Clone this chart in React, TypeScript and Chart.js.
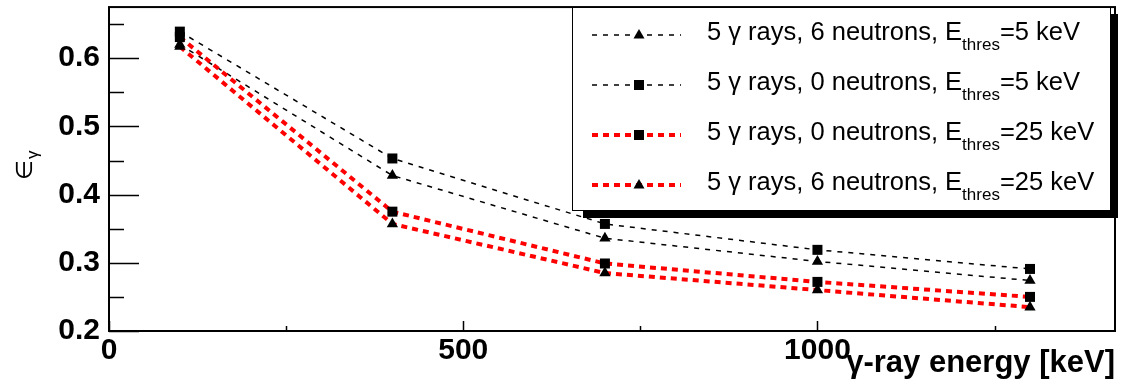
import React, { useEffect, useRef } from "react";
import { Chart, registerables } from "chart.js";

Chart.register(...registerables);

const X_VALUES = [100, 400, 700, 1000, 1300];
const TRI_6N_5KEV = [0.62, 0.428, 0.336, 0.302, 0.274];
const SQ_0N_5KEV = [0.639, 0.453, 0.357, 0.319, 0.291];
const SQ_0N_25KEV = [0.631, 0.375, 0.299, 0.272, 0.25];
const TRI_6N_25KEV = [0.617, 0.357, 0.285, 0.26, 0.235];

const X_MAJOR = [0, 500, 1000];
const X_MINOR = [250, 750, 1250];
const Y_MAJOR = [0.2, 0.3, 0.4, 0.5, 0.6];
const Y_MINOR = [0.25, 0.35, 0.45, 0.55, 0.65];

const LEGEND = [
  { pre: "5 \u03b3 rays, 6 neutrons, E", sub: "thres", post: "=5 keV", color: "#000000", width: 1.5, dash: [5, 6], style: "triangle" },
  { pre: "5 \u03b3 rays, 0 neutrons, E", sub: "thres", post: "=5 keV", color: "#000000", width: 1.5, dash: [5, 6], style: "rect" },
  { pre: "5 \u03b3 rays, 0 neutrons, E", sub: "thres", post: "=25 keV", color: "#ff0000", width: 4, dash: [6, 5], style: "rect" },
  { pre: "5 \u03b3 rays, 6 neutrons, E", sub: "thres", post: "=25 keV", color: "#ff0000", width: 4, dash: [6, 5], style: "triangle" },
];

const FONT = "'Liberation Sans', Arial, 'DejaVu Sans', sans-serif";

function drawMarker(ctx: CanvasRenderingContext2D, style: string, x: number, y: number) {
  ctx.save();
  ctx.setLineDash([]);
  ctx.fillStyle = "#000";
  ctx.beginPath();
  if (style === "rect") {
    ctx.rect(x - 5, y - 5, 10, 10);
  } else {
    ctx.moveTo(x, y - 6);
    ctx.lineTo(x + 5.5, y + 3.5);
    ctx.lineTo(x - 5.5, y + 3.5);
    ctx.closePath();
  }
  ctx.fill();
  ctx.restore();
}

const framePlugin = {
  id: "rootFrame",
  afterDatasetsDraw(chart: any) {
    const ctx: CanvasRenderingContext2D = chart.ctx;
    const { left, right, top, bottom } = chart.chartArea;
    const xs = chart.scales.x;
    const ys = chart.scales.y;
    ctx.save();
    ctx.strokeStyle = "#000";
    ctx.setLineDash([]);
    // ticks
    ctx.lineWidth = 1.5;
    ctx.beginPath();
    Y_MAJOR.forEach((v) => {
      const p = Math.round(ys.getPixelForValue(v)) + 0.5;
      ctx.moveTo(left, p);
      ctx.lineTo(left + 30, p);
    });
    Y_MINOR.forEach((v) => {
      const p = Math.round(ys.getPixelForValue(v)) + 0.5;
      ctx.moveTo(left, p);
      ctx.lineTo(left + 15, p);
    });
    X_MAJOR.forEach((v) => {
      const p = Math.round(xs.getPixelForValue(v)) + 0.5;
      ctx.moveTo(p, bottom);
      ctx.lineTo(p, bottom - 10);
    });
    X_MINOR.forEach((v) => {
      const p = Math.round(xs.getPixelForValue(v)) + 0.5;
      ctx.moveTo(p, bottom);
      ctx.lineTo(p, bottom - 5);
    });
    ctx.stroke();
    // frame
    ctx.lineWidth = 2;
    ctx.strokeRect(left, top, right - left, bottom - top);

    // legend
    const lx = 572, ly = 7, lw = 539, lh = 204;
    ctx.fillStyle = "#000";
    ctx.fillRect(lx + 11, ly + 7, lw - 4, lh);
    ctx.fillStyle = "#fff";
    ctx.fillRect(lx, ly, lw, lh);
    ctx.lineWidth = 1;
    ctx.strokeStyle = "#000";
    ctx.strokeRect(lx + 0.5, ly + 0.5, lw - 1, lh - 1);

    LEGEND.forEach((item, i) => {
      const cy = 35 + i * 50;
      ctx.save();
      ctx.strokeStyle = item.color;
      ctx.lineWidth = item.width;
      ctx.setLineDash(item.dash);
      ctx.beginPath();
      ctx.moveTo(592, cy);
      ctx.lineTo(681, cy);
      ctx.stroke();
      ctx.restore();
      drawMarker(ctx, item.style, 639, cy);
      ctx.fillStyle = "#000";
      ctx.textAlign = "left";
      ctx.textBaseline = "alphabetic";
      ctx.font = `25.5px ${FONT}`;
      let tx = 707;
      ctx.fillText(item.pre, tx, cy + 5);
      tx += ctx.measureText(item.pre).width;
      ctx.font = `17px ${FONT}`;
      ctx.fillText(item.sub, tx, cy + 15);
      tx += ctx.measureText(item.sub).width;
      ctx.font = `25.5px ${FONT}`;
      ctx.fillText(item.post, tx, cy + 5);
    });

    // x title
    ctx.fillStyle = "#000";
    ctx.font = `bold 31px ${FONT}`;
    ctx.textAlign = "right";
    ctx.textBaseline = "alphabetic";
    ctx.fillText("\u03b3-ray energy [keV]", right, 372);

    // y title
    ctx.save();
    ctx.translate(32, 180);
    ctx.rotate(-Math.PI / 2);
    ctx.textAlign = "left";
    ctx.font = `23px ${FONT}`;
    ctx.fillText("\u2208", 0, 0);
    const w = ctx.measureText("\u2208").width;
    ctx.font = `17px ${FONT}`;
    ctx.fillText("\u03b3", w + 1, 6);
    ctx.restore();

    ctx.restore();
  },
};

function makeDataset(values: number[], color: string, width: number, dash: number[], style: string) {
  return {
    data: X_VALUES.map((x, i) => ({ x, y: values[i] })),
    borderColor: color,
    borderWidth: width,
    borderDash: dash,
    backgroundColor: "#000",
    pointBackgroundColor: "#000",
    pointBorderColor: "#000",
    pointBorderWidth: 0,
    pointStyle: style,
    pointRadius: style === "rect" ? 7.07 : 6.5,
    fill: false,
    tension: 0,
  };
}

export default function App() {
  const ref = useRef<HTMLCanvasElement | null>(null);
  useEffect(() => {
    document.body.style.margin = "0";
    const canvas = ref.current;
    if (!canvas) return;
    const chart = new Chart(canvas, {
      type: "line",
      data: {
        datasets: [
          makeDataset(TRI_6N_25KEV, "#ff0000", 4, [6, 5], "triangle"),
          makeDataset(SQ_0N_25KEV, "#ff0000", 4, [6, 5], "rect"),
          makeDataset(TRI_6N_5KEV, "#000000", 1.5, [5, 6], "triangle"),
          makeDataset(SQ_0N_5KEV, "#000000", 1.5, [5, 6], "rect"),
        ],
      },
      options: {
        animation: false,
        responsive: false,
        maintainAspectRatio: false,
        layout: { padding: { left: 0, right: 8, top: 7, bottom: 0 } },
        plugins: { legend: { display: false }, tooltip: { enabled: false }, title: { display: false } },
        scales: {
          x: {
            type: "linear",
            min: 0,
            max: 1420,
            grid: { display: false, drawTicks: false },
            border: { display: false },
            afterFit: (s: any) => {
              s.height = 51;
              s.paddingLeft = 0;
              s.paddingRight = 0;
              s.paddingTop = 0;
              s.paddingBottom = 0;
            },
            afterBuildTicks: (s: any) => {
              s.ticks = X_MAJOR.map((v) => ({ value: v }));
            },
            ticks: {
              padding: 2,
              color: "#000",
              font: { family: FONT, size: 30, weight: "bold" },
              maxRotation: 0,
              autoSkip: false,
              callback: (v: any) => String(v),
            },
          },
          y: {
            type: "linear",
            min: 0.2,
            max: 0.675,
            grid: { display: false, drawTicks: false },
            border: { display: false },
            afterFit: (s: any) => {
              s.width = 109;
              s.paddingLeft = 0;
              s.paddingRight = 0;
              s.paddingTop = 0;
              s.paddingBottom = 0;
            },
            afterBuildTicks: (s: any) => {
              s.ticks = Y_MAJOR.map((v) => ({ value: v }));
            },
            ticks: {
              padding: 9,
              color: "#000",
              font: { family: FONT, size: 30, weight: "bold" },
              autoSkip: false,
              callback: (v: any) => Number(v).toFixed(1),
            },
          },
        },
      },
      plugins: [framePlugin],
    } as any);
    return () => chart.destroy();
  }, []);
  return (
    <div style={{ width: 1123, height: 382, background: "#fff" }}>
      <canvas ref={ref} width={1123} height={382} style={{ display: "block" }} />
    </div>
  );
}
